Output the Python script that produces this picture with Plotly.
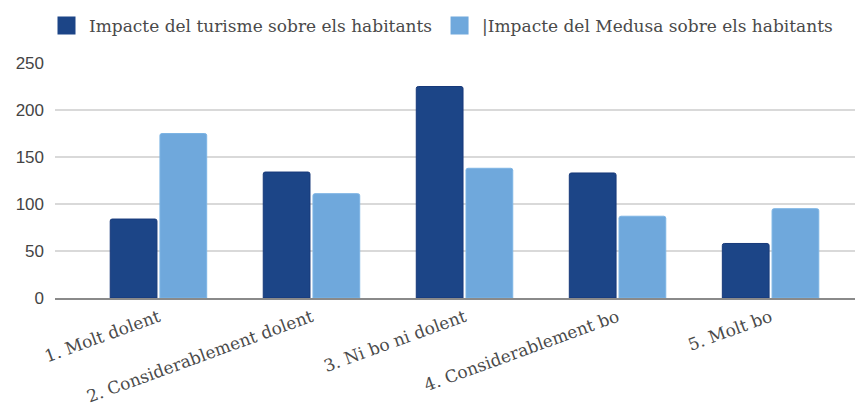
import plotly.graph_objects as go

categories = ["1. Molt dolent", "2. Considerablement dolent", "3. Ni bo ni dolent",
              "4. Considerablement bo", "5. Molt bo"]
series_names = ["Impacte del turisme sobre els habitants",
                "|Impacte del Medusa sobre els habitants"]
turisme = [84, 134, 225, 133, 58]
medusa = [175, 111, 138, 87, 95]
y_ticks = [0, 50, 100, 150, 200, 250]

dark = "#1c4587"
light = "#6fa8dc"
colors = [dark, light]

fig = go.Figure()
for name, vals, col, edge in [(series_names[0], turisme, dark, "#17397a"),
                              (series_names[1], medusa, light, "#7db4e4")]:
    fig.add_trace(go.Bar(x=categories, y=vals, name=name, legendgroup=name, showlegend=False,
                         marker=dict(color=col, line=dict(color=edge, width=1), cornerradius=2)))
# legend entries (larger square swatches)
for name, col in zip(series_names, colors):
    fig.add_trace(go.Scatter(x=[None], y=[None], name=name, legendgroup=name, mode="markers",
                             marker=dict(symbol="square", size=16, color=col,
                                         line=dict(color=col, width=2))))

fig.update_layout(
    width=863, height=414,
    margin=dict(l=44, r=8, t=55, b=124),
    paper_bgcolor="white", plot_bgcolor="white",
    barmode="group", bargap=0.35, bargroupgap=0.06,
    showlegend=True,
    legend=dict(orientation="h", xref="container", yref="container",
                x=36 / 863, y=1.0, xanchor="left", yanchor="top",
                font=dict(family="DejaVu Serif", size=17, color="#4a4a4a"),
                itemwidth=35, tracegroupgap=0),
)
fig.update_xaxes(
    type="category", range=[-0.676, 4.604], tickangle=-20,
    tickfont=dict(family="DejaVu Serif", size=17, color="#4a4a4a"),
    showline=True, linecolor="#8a8a8a", linewidth=2, showgrid=False,
    ticks="", ticklabelstandoff=1,
)
fig.update_yaxes(
    range=[0, 250], tickvals=y_ticks,
    tickfont=dict(family="Liberation Sans", size=17, color="#444444"),
    showgrid=True, gridcolor="#d9d9d9", gridwidth=1.5,
    zeroline=False, ticks="", ticklabelstandoff=10,
)

fig.write_html("out.html")
